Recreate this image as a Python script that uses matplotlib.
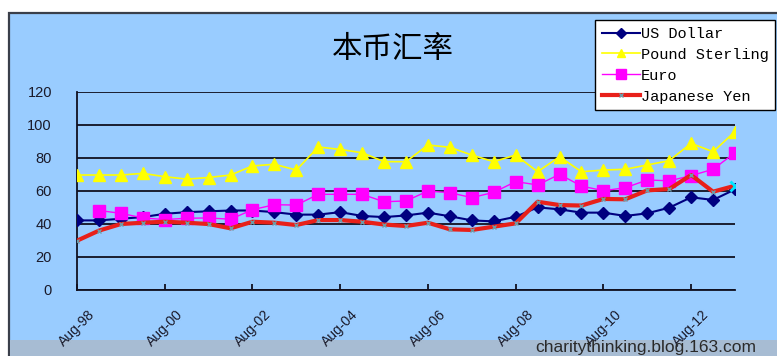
import matplotlib
matplotlib.use("Agg")
import matplotlib.pyplot as plt
from matplotlib.patches import Rectangle
import numpy as np

title = "本币汇率"
tick_labels = ["Aug-98", "Aug-00", "Aug-02", "Aug-04", "Aug-06", "Aug-08", "Aug-10", "Aug-12"]
series_names = ["US Dollar", "Pound Sterling", "Euro", "Japanese Yen"]

us_dollar = [42, 42, 43, 44, 46, 47, 47.5, 48, 48, 47, 45.5, 45.5, 47, 44.7, 44, 45,
             46.7, 44.5, 42, 41.4, 44.2, 49.9, 48.7, 46.7, 46.7, 44.7, 46.3, 49.7, 56, 54.4, 60.8]
pound = [69.5, 69.5, 69.5, 70.5, 68.5, 67, 68, 69.5, 75, 76, 72.5, 86.5, 85, 83, 77.6, 77.6,
         87.7, 86.3, 81.6, 77.6, 81.6, 71.5, 80.6, 71.5, 72.5, 73, 75.6, 78.2, 88.7, 83.6, 95.8]
euro = [np.nan, 48, 46.3, 43.5, 42.5, 43.3, 43.5, 42.7, 48.5, 51.5, 51.3, 57.8, 57.8, 57.8, 53.3, 53.8,
        59.8, 58.8, 55.8, 59, 65.5, 63.5, 69.9, 62.8, 60, 61.8, 66.5, 66, 69.1, 73, 83]
yen = [29.7, 35.8, 39.8, 40.6, 41.2, 40.6, 39.8, 37.2, 41.2, 40.6, 39.2, 42.2, 42.2, 41.2, 39.5, 38.6,
       40.6, 36.6, 36.2, 38.2, 40.2, 53.3, 51.3, 51, 55, 54.8, 60.2, 61, 69.5, 59.4, 63]

W, H = 777, 356
fig = plt.figure(figsize=(W / 100, H / 100), dpi=100, facecolor="white")

# chart area background with border
bg = "#99CCFF"
fig.patches.append(Rectangle((9 / W, -0.01), 1.0, 1 - 13 / H + 0.01, transform=fig.transFigure,
                             facecolor=bg, edgecolor="#3a3f4a", linewidth=1.6, zorder=-3))
# bottom gray band
fig.patches.append(Rectangle((10 / W, 0), 1.0, 16 / H, transform=fig.transFigure,
                             facecolor="#A7BCD3", edgecolor="none", zorder=-2))

ax = fig.add_axes([77 / W, 1 - 289.7 / H, 658 / W, (289.7 - 91.7) / H])
ax.set_zorder(2)
ax.set_facecolor("none")
x = np.arange(len(us_dollar))

ax.plot(x, us_dollar, color="#000080", lw=1.5, marker="D", ms=6.5, mfc="#000080", mec="#000080",
        label=series_names[0], zorder=3)
ax.plot(x, pound, color="#FFFF00", lw=1.2, marker="^", ms=8, mfc="#FFFF00", mec="#FFFF00",
        label=series_names[1], zorder=4)
ax.plot(x, euro, color="#FF00FF", lw=1.0, marker="s", ms=9, mfc="#FF00FF", mec="#FF00FF",
        label=series_names[2], zorder=5)
ax.plot(x, yen, color="#E8201A", lw=3, marker="x", ms=3.5, mec="#6E9CA8", mew=1,
        label=series_names[3], zorder=6)
ax.plot(x[-1:], yen[-1:], linestyle="none", marker="x", ms=7, mec="#00E5FF", mew=2, zorder=7)

ax.set_xlim(0, len(x) - 1)
ax.set_ylim(0, 120)
ax.set_yticks(np.arange(0, 121, 20))
ax.yaxis.grid(True, color="#101020", lw=1.3)
ax.set_axisbelow(True)
for s in ["top", "right"]:
    ax.spines[s].set_visible(False)
ax.spines["left"].set_color("#101020")
ax.spines["bottom"].set_color("#101020")
ax.spines["left"].set_linewidth(1.3)
ax.spines["bottom"].set_linewidth(1.3)

ax.set_xticks(np.arange(0, len(x), 4))
ax.set_xticklabels(tick_labels, rotation=45, ha="center", va="top",
                   fontfamily="Liberation Sans", fontsize=10, color="#1a1a2a")
ax.tick_params(axis="x", direction="in", length=4, width=1.3, color="#101020", pad=13)
ax.tick_params(axis="y", length=0, pad=18)
for lab in ax.get_yticklabels():
    lab.set_fontfamily("Liberation Sans")
    lab.set_fontsize(10.5)
    lab.set_color("#1a1a2a")

fig.text(393 / W, 1 - 50 / H, title, ha="center", va="center",
         fontfamily=["Noto Sans CJK SC", "DejaVu Sans"], fontsize=22, color="black")

leg = fig.legend(loc="upper left", bbox_to_anchor=(595 / W, 1 - 20 / H),
                 bbox_transform=fig.transFigure, frameon=True, fancybox=False,
                 prop={"family": "Liberation Mono", "size": 11},
                 handlelength=2.5, handletextpad=0.05, labelspacing=0.45,
                 borderpad=0.45, borderaxespad=0, markerscale=0.8)
leg.set_zorder(10)
leg.get_frame().set_edgecolor("black")
leg.get_frame().set_linewidth(1.0)
leg.get_frame().set_facecolor("white")
leg.get_frame().set_alpha(1)

fig.text(535 / W, 1 - 352 / H, "charitythinking.blog.163.com", ha="left", va="baseline",
         fontfamily="Liberation Sans", fontsize=12.5, color="#2a2a2a")

fig.savefig("out.png", dpi=100, facecolor="white")
